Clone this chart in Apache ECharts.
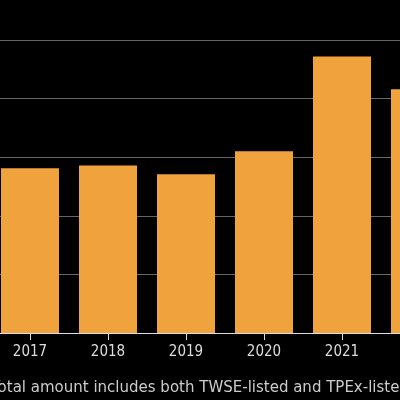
<!DOCTYPE html>
<html>
<head>
<meta charset="utf-8">
<script src="https://cdn.jsdelivr.net/npm/echarts@6/dist/echarts.min.js"></script>
<style>
  html, body { margin: 0; padding: 0; background: #000; }
  #chart { width: 400px; height: 400px; }
</style>
</head>
<body>
<div id="chart"></div>
<script>
const years = ['2017', '2018', '2019', '2020', '2021', '2022'];
const amounts = [2.81, 2.86, 2.71, 3.10, 4.72, 4.16];
const note = 'Total amount includes both TWSE-listed and TPEx-listed companies';

const chart = echarts.init(document.getElementById('chart'));

chart.setOption({
  backgroundColor: '#000',
  animation: false,
  grid: { left: -9, right: -59, top: 40, bottom: 67, containLabel: false, outerBoundsMode: 'none' },
  xAxis: {
    type: 'category',
    data: years,
    axisLine: { lineStyle: { color: '#ddd', width: 1 } },
    axisTick: { show: true, alignWithLabel: true, length: 7, lineStyle: { color: '#ddd', width: 1 } },
    axisLabel: { color: '#ddd', fontSize: 15, margin: 12, fontFamily: 'DejaVu Sans Condensed' }
  },
  yAxis: {
    type: 'value',
    min: 0,
    max: 5,
    interval: 1,
    axisLabel: { show: false },
    axisLine: { show: false },
    axisTick: { show: false },
    splitLine: { lineStyle: { color: '#666', width: 1 } }
  },
  series: [{
    type: 'bar',
    data: amounts,
    barWidth: 58,
    itemStyle: { color: '#f0a23c' }
  }],
  graphic: [{
    type: 'text',
    left: -9,
    top: 381,
    style: { text: note, fill: '#ccc', fontSize: 15, fontFamily: 'DejaVu Sans' }
  }]
});
</script>
</body>
</html>
